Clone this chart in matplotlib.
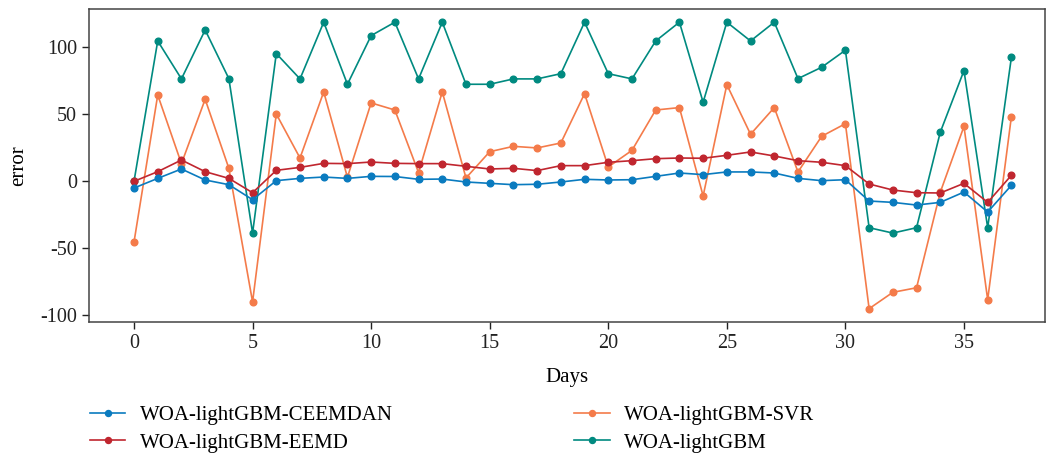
import numpy as np
import matplotlib
matplotlib.use('Agg')
import matplotlib.pyplot as plt

plt.rcParams['font.family'] = ['Liberation Serif', 'DejaVu Serif']

# ── Data ────────────────────────────────────────────────────
days = list(range(38))

ceemdan = [-5, 2.2, 9.2, 1, -2.5, -13.7, 0.5, 2.2, 3.2, 2.2, 3.7, 3.6, 1.5, 1.7, -0.5,
           -1.5, -2.5, -2.2, -0.5, 1.5, 1, 1.2, 3.7, 6.2, 5, 7, 7, 6.2, 2.2, 0.5,
           1.2, -14.7, -15.7, -17.7, -15.7, -8, -22.9, -3]
svr = [-45.3, 64.4, 13.2, 61.2, 9.7, -90, 50.2, 17.4, 66.7, 3, 58.5, 53.2, 6.5, 66.7, 2.5,
       22.1, 26.1, 24.9, 28.6, 65.4, 10.7, 23.1, 53.2, 55, -10.9, 72.1, 35.1, 55, 7, 33.6,
       43, -95, -82.8, -79.4, -8.2, 41, -88.3, 48.3]
eemd = [0, 7.2, 15.9, 7.2, 2.2, -8.5, 8.2, 10.4, 13.4, 13.2, 14.4, 13.4, 13.2, 13.2, 11.2,
        9.2, 9.7, 8, 11.7, 11.7, 14.2, 15.4, 16.9, 17.4, 17.2, 19.4, 21.9, 18.9, 15.4, 14.2,
        11.7, -2, -6.5, -8.5, -8.7, -1.5, -15.7, 4.5]
lgbm = [0, 104.7, 76.4, 112.9, 76.6, -38.6, 95.3, 76.4, 118.7, 72.4, 108.7, 118.7, 76.4, 118.7, 72.4,
        72.4, 76.4, 76.4, 80.3, 118.7, 80.3, 76.4, 104.7, 118.7, 59, 118.7, 104.7, 118.7, 76.6, 85.1,
        97.8, -34.6, -38.6, -34.6, 36.6, 82.6, -34.6, 92.5]

C = {'blue': '#0a7bbf', 'orange': '#f47b4a', 'red': '#c0262f', 'teal': '#008a80'}

fig = plt.figure(figsize=(10.49, 4.53), dpi=100)
ax = fig.add_axes([0.0848, 0.289, 0.911, 0.691])

kw = dict(marker='o', ms=4.8, lw=1.2)
l1, = ax.plot(days, ceemdan, color=C['blue'], label='WOA-lightGBM-CEEMDAN', **kw)
l2, = ax.plot(days, eemd, color=C['red'], label='WOA-lightGBM-EEMD', **kw)
l3, = ax.plot(days, svr, color=C['orange'], label='WOA-lightGBM-SVR', **kw)
l4, = ax.plot(days, lgbm, color=C['teal'], label='WOA-lightGBM', **kw)
# draw order: teal/orange under red/blue
l4.set_zorder(1); l3.set_zorder(2); l2.set_zorder(3); l1.set_zorder(4)

ax.set_xlim(-1.9, 38.4)
ax.set_ylim(-105, 128.5)
ax.set_xticks([0, 5, 10, 15, 20, 25, 30, 35])
ax.set_yticks([-100, -50, 0, 50, 100])
ax.set_yticklabels(['-100', '-50', '0', '50', '100'])
ax.tick_params(direction='out', length=5, width=1, labelsize=14.5, colors='#222222')
for s in ax.spines.values():
    s.set_color('#444444'); s.set_linewidth(1.1)
ax.set_xlabel('Days', fontsize=15, labelpad=11)
ax.set_ylabel('error', fontsize=15, labelpad=9)

fig.legend(handles=[l1, l2, l3, l4], ncol=2, frameon=False, fontsize=15,
           loc='upper left', bbox_to_anchor=(0.068, 0.146), columnspacing=8.7,
           handlelength=1.7, handletextpad=0.7, labelspacing=0.38, markerscale=0.9)

plt.savefig('out.png', dpi=100, facecolor='white')
